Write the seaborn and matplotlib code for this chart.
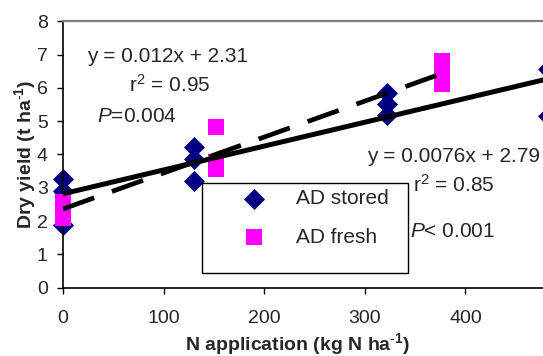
import numpy as np
import pandas as pd
import matplotlib
matplotlib.use("Agg")
import matplotlib.pyplot as plt
from matplotlib.patches import Rectangle
import seaborn as sns

# ---- data ----
stored_x = [0, 0, 0, 130, 130, 130, 322, 322, 322, 482, 482]
stored_y = [3.27, 2.9, 1.87, 4.24, 3.85, 3.19, 5.84, 5.53, 5.2, 6.58, 5.17]
fresh_x = [0, 0, 0, 152, 152, 152, 377, 377, 377]
fresh_y = [2.57, 2.33, 2.09, 4.83, 3.78, 3.57, 6.8, 6.33, 6.12]
series_names = ["AD stored", "AD fresh"]
x_ticks = [0, 100, 200, 300, 400]
y_ticks = [0, 1, 2, 3, 4, 5, 6, 7, 8]
eq_fresh = ["y = 0.012x + 2.31", "r$^2$ = 0.95", "$\\it{P}$=0.004"]
eq_stored = ["y = 0.0076x + 2.79", "r$^2$ = 0.85", "$\\it{P}$< 0.001"]

sns.set_style("ticks")
plt.rcParams["font.family"] = ["Liberation Sans", "DejaVu Sans"]
plt.rcParams["mathtext.fontset"] = "custom"
plt.rcParams["mathtext.rm"] = "Liberation Sans"
plt.rcParams["mathtext.it"] = "Liberation Sans:italic"
plt.rcParams["mathtext.bf"] = "Liberation Sans:bold"

FS = 14
FS_T = 15
fig = plt.figure(figsize=(5.43, 3.56), dpi=100)
ax = fig.add_axes([63 / 543, (356 - 287.5) / 356, 503 / 543, 266 / 356])

stored = pd.DataFrame({"x": stored_x, "y": stored_y})
fresh = pd.DataFrame({"x": fresh_x, "y": fresh_y})

sns.scatterplot(data=stored, x="x", y="y", marker="D", color="#000080", s=115,
                linewidth=0, ax=ax, label=series_names[0], zorder=2, clip_on=False)
sns.scatterplot(data=fresh, x="x", y="y", marker="s", color="#FF00FF", s=125,
                linewidth=0, ax=ax, label=series_names[1], zorder=3, clip_on=False)

sns.regplot(data=stored, x="x", y="y", scatter=False, ci=None, truncate=True, ax=ax,
            line_kws=dict(color="black", lw=3.6, solid_capstyle="butt", zorder=4))
sns.regplot(data=fresh, x="x", y="y", scatter=False, ci=None, truncate=True, ax=ax,
            line_kws=dict(color="black", lw=3.4, ls=(0, (7, 4)), dash_capstyle="butt", zorder=4))

ax.set_xlim(0, 500)
ax.set_ylim(0, 8)
ax.set_xticks(x_ticks)
ax.set_yticks(y_ticks)
ax.tick_params(axis="both", direction="out", length=4, width=1, labelsize=FS, color="black")
ax.tick_params(axis="x", pad=12)
ax.tick_params(axis="y", pad=7)

for s in ["left", "bottom"]:
    ax.spines[s].set_color("black")
    ax.spines[s].set_linewidth(1.2)
ax.spines["top"].set_color("#808080")
ax.spines["top"].set_linewidth(1.6)
ax.spines["right"].set_visible(False)

ax.set_xlabel("N application (kg N ha$^{\\mathbf{\\text{-}1}}$)", fontsize=FS, fontweight="bold")
ax.set_ylabel("Dry yield (t ha$^{\\mathbf{\\text{-}1}}$)", fontsize=FS, fontweight="bold")
ax.xaxis.set_label_coords((297 - 62.7) / 503, -(350 - 287.5) / 266, transform=ax.transAxes)
ax.xaxis.label.set_va("baseline")
ax.yaxis.set_label_coords(-(63 - 25) / 503, 0.5)
ax.yaxis.label.set_va("center")

# annotations
for txt, xx, yy in zip(eq_fresh, [104, 106, 73.4], [6.79, 5.89, 4.99]):
    ax.text(xx, yy, txt, fontsize=FS_T, ha="center", va="baseline", zorder=6)
for txt, xx, yy in zip(eq_stored, [388, 388, 387.5], [3.78, 2.88, 1.53]):
    ax.text(xx, yy, txt, fontsize=FS_T, ha="center", va="baseline", zorder=6)

# legend box
ax.add_patch(Rectangle((138.5, 0.44), 343.3 - 138.5, 3.14 - 0.44, facecolor="white",
                       edgecolor="black", lw=1.0, zorder=7))
leg = ax.legend(loc="upper left", bbox_to_anchor=(155 / 500, 3.4 / 8),
                frameon=False, fontsize=FS_T, handletextpad=1.0, labelspacing=0.95,
                borderpad=0.2, markerscale=1.0)
leg.set_zorder(8)

fig.savefig("out.png", dpi=100)
